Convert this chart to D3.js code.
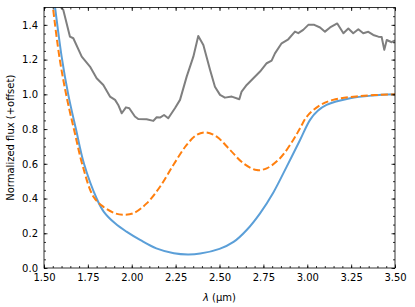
<!DOCTYPE html>
<html>
<head>
<meta charset="utf-8">
<script src="https://cdn.jsdelivr.net/npm/d3@7"></script>
<style>
  body { margin: 0; background: #fff; }
  text { font-family: "DejaVu Sans", sans-serif; }
</style>
</head>
<body>
<svg id="chart"></svg>
<script>
var blueX = [1.55, 1.563, 1.60, 1.638, 1.682, 1.728, 1.80, 1.84, 1.905, 1.97, 2.05, 2.14, 2.24, 2.32, 2.39, 2.50, 2.58, 2.655, 2.731, 2.807, 2.883, 2.959, 3.016, 3.06, 3.11, 3.244, 3.37, 3.50];
var blueY = [1.60, 1.50, 1.22, 1.0, 0.8, 0.6, 0.40, 0.325, 0.257, 0.209, 0.16, 0.113, 0.085, 0.078, 0.083, 0.11, 0.15, 0.219, 0.315, 0.435, 0.584, 0.737, 0.853, 0.905, 0.939, 0.977, 0.993, 1.0];

var orangeX = [1.54, 1.551, 1.59, 1.63, 1.675, 1.72, 1.782, 1.838, 1.905, 1.95, 2.009, 2.085, 2.161, 2.237, 2.313, 2.37, 2.423, 2.484, 2.56, 2.636, 2.712, 2.769, 2.845, 2.92, 2.959, 3.0, 3.07, 3.147, 3.30, 3.50];
var orangeY = [1.60, 1.50, 1.20, 0.98, 0.78, 0.59, 0.41, 0.353, 0.315, 0.307, 0.315, 0.372, 0.468, 0.593, 0.709, 0.766, 0.781, 0.756, 0.68, 0.603, 0.564, 0.574, 0.632, 0.737, 0.805, 0.875, 0.935, 0.968, 0.99, 1.0];

var grayX = [1.55, 1.61, 1.648, 1.667, 1.715, 1.762, 1.80, 1.838, 1.876, 1.905, 1.923, 1.943, 1.967, 1.986, 2.018, 2.037, 2.085, 2.123, 2.142, 2.161, 2.184, 2.208, 2.246, 2.275, 2.313, 2.351, 2.379, 2.408, 2.446, 2.474, 2.503, 2.531, 2.57, 2.613, 2.626, 2.655, 2.693, 2.731, 2.769, 2.797, 2.816, 2.854, 2.892, 2.93, 2.949, 2.977, 3.006, 3.04, 3.073, 3.101, 3.13, 3.171, 3.206, 3.234, 3.262, 3.291, 3.319, 3.348, 3.376, 3.405, 3.424, 3.439, 3.453, 3.481, 3.50];
var grayY = [1.55, 1.486, 1.332, 1.323, 1.217, 1.16, 1.093, 1.054, 0.987, 0.968, 0.939, 0.891, 0.925, 0.92, 0.872, 0.858, 0.857, 0.847, 0.868, 0.866, 0.881, 0.862, 0.92, 0.968, 1.102, 1.217, 1.336, 1.284, 1.141, 1.044, 0.997, 0.981, 0.987, 0.972, 1.016, 1.054, 1.093, 1.131, 1.179, 1.194, 1.236, 1.294, 1.317, 1.361, 1.352, 1.371, 1.40, 1.40, 1.385, 1.361, 1.385, 1.408, 1.352, 1.379, 1.352, 1.375, 1.352, 1.36, 1.342, 1.332, 1.33, 1.256, 1.313, 1.30, 1.31];

var xTicks = [1.50, 1.75, 2.00, 2.25, 2.50, 2.75, 3.00, 3.25, 3.50];
var yTicks = [0.0, 0.2, 0.4, 0.6, 0.8, 1.0, 1.2, 1.4];

var W = 415, H = 307;
var margin = {top: 7.5, right: 20, bottom: 39, left: 44};
var w = W - margin.left - margin.right;
var h = H - margin.top - margin.bottom;

var svg = d3.select('#chart').attr('width', W).attr('height', H);
var g = svg.append('g').attr('transform', `translate(${margin.left},${margin.top})`);

var x = d3.scaleLinear().domain([1.5, 3.5]).range([0, w]);
var y = d3.scaleLinear().domain([0, 1.5]).range([h, 0]);

g.append('clipPath').attr('id', 'clip')
  .append('rect').attr('width', w).attr('height', h);

var zip = (xs, ys) => xs.map((v, i) => [v, ys[i]]);

var smooth = d3.line().x(d => x(d[0])).y(d => y(d[1])).curve(d3.curveCatmullRom.alpha(0.5));
var straight = d3.line().x(d => x(d[0])).y(d => y(d[1]));

var plot = g.append('g').attr('clip-path', 'url(#clip)');

plot.append('path')
  .attr('d', straight(zip(grayX, grayY)))
  .attr('fill', 'none').attr('stroke', '#7f7f7f').attr('stroke-width', 2)
  .attr('stroke-linejoin', 'round');

plot.append('path')
  .attr('d', smooth(zip(blueX, blueY)))
  .attr('fill', 'none').attr('stroke', '#5b9fd8').attr('stroke-width', 2);

plot.append('path')
  .attr('d', smooth(zip(orangeX, orangeY)))
  .attr('fill', 'none').attr('stroke', '#ff7f0e').attr('stroke-width', 2)
  .attr('stroke-dasharray', '7,3');

// ticks, matplotlib "in" style on all sides
var xMinor = d3.range(1.5, 3.5001, 0.05);
var yMinor = d3.range(0, 1.5001, 0.05);

function tickAxis(axisFn, scale, major, minor, tx, labels) {
  var a = g.append('g').attr('transform', tx);
  a.call(axisFn(scale).tickValues(minor).tickSize(-2).tickFormat(''));
  var b = g.append('g').attr('transform', tx);
  b.call(axisFn(scale).tickValues(major).tickSize(-3.5).tickPadding(6)
    .tickFormat(labels ? labels : ''));
  [a, b].forEach(s => {
    s.select('.domain').remove();
    s.selectAll('line').attr('stroke', '#000').attr('stroke-width', 0.8);
    s.selectAll('text').attr('font-size', 10).attr('fill', '#000');
  });
  return b;
}

tickAxis(d3.axisBottom, x, xTicks, xMinor, `translate(0,${h})`, d3.format('.2f'));
tickAxis(d3.axisTop, x, xTicks, xMinor, 'translate(0,0)', null);
tickAxis(d3.axisLeft, y, yTicks, yMinor, 'translate(0,0)', d3.format('.1f'));
tickAxis(d3.axisRight, y, yTicks, yMinor, `translate(${w},0)`, null);

g.append('rect').attr('width', w).attr('height', h)
  .attr('fill', 'none').attr('stroke', '#000').attr('stroke-width', 0.8);

var xl = svg.append('text')
  .attr('x', margin.left + w / 2).attr('y', H - 6)
  .attr('text-anchor', 'middle').attr('font-size', 10);
xl.append('tspan').attr('font-style', 'italic').text('λ');
xl.append('tspan').text(' (μm)');

svg.append('text')
  .attr('transform', `translate(14,${margin.top + h / 2}) rotate(-90)`)
  .attr('text-anchor', 'middle').attr('font-size', 10)
  .text('Normalized flux (+offset)');
</script>
</body>
</html>
